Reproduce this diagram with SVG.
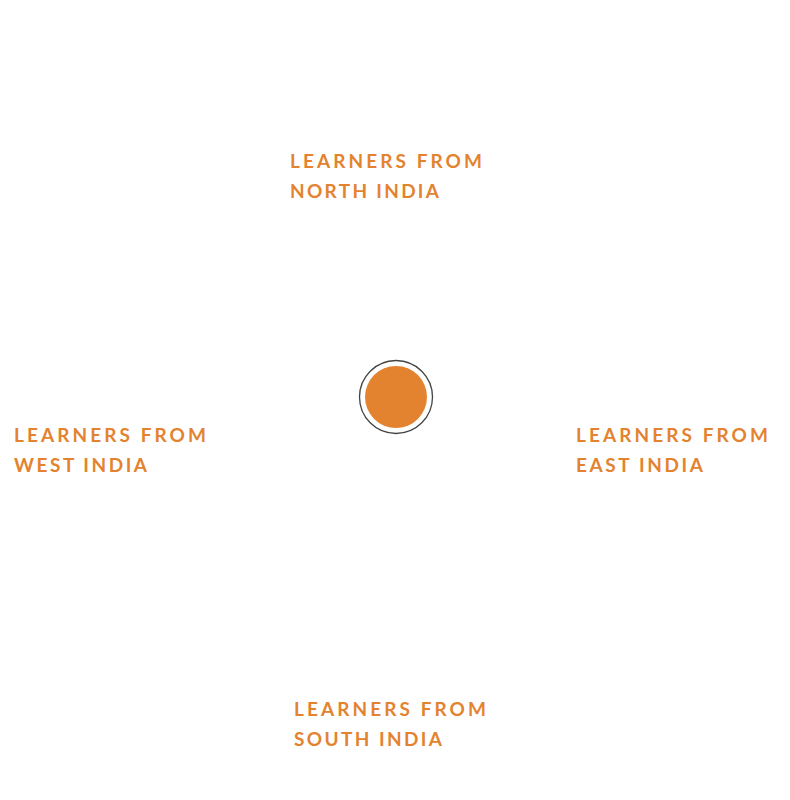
<svg xmlns="http://www.w3.org/2000/svg" width="790" height="800" viewBox="0 0 790 800">
<style>
.lbl{font-family:Lato,"Liberation Sans",sans-serif;font-weight:700;font-size:19px;fill:#E3832F;}
</style>
<rect width="790" height="800" fill="#ffffff"/>
<g id="center">
<circle cx="396" cy="397" r="36.5" fill="#ffffff" stroke="#444444" stroke-width="1.3"/>
<circle cx="396" cy="397" r="31" fill="#E3832F"/>
</g>
<g id="north">
<text class="lbl" x="290" y="168" textLength="192" lengthAdjust="spacing">LEARNERS FROM</text>
<text class="lbl" x="290" y="198" textLength="149" lengthAdjust="spacing">NORTH INDIA</text>
</g>
<g id="west">
<text class="lbl" x="14" y="442" textLength="192" lengthAdjust="spacing">LEARNERS FROM</text>
<text class="lbl" x="14" y="472" textLength="133" lengthAdjust="spacing">WEST INDIA</text>
</g>
<g id="east">
<text class="lbl" x="576" y="442" textLength="192" lengthAdjust="spacing">LEARNERS FROM</text>
<text class="lbl" x="576" y="472" textLength="127" lengthAdjust="spacing">EAST INDIA</text>
</g>
<g id="south">
<text class="lbl" x="294" y="716" textLength="192" lengthAdjust="spacing">LEARNERS FROM</text>
<text class="lbl" x="294" y="746" textLength="148" lengthAdjust="spacing">SOUTH INDIA</text>
</g>
<g id="connectors"></g>
</svg>
